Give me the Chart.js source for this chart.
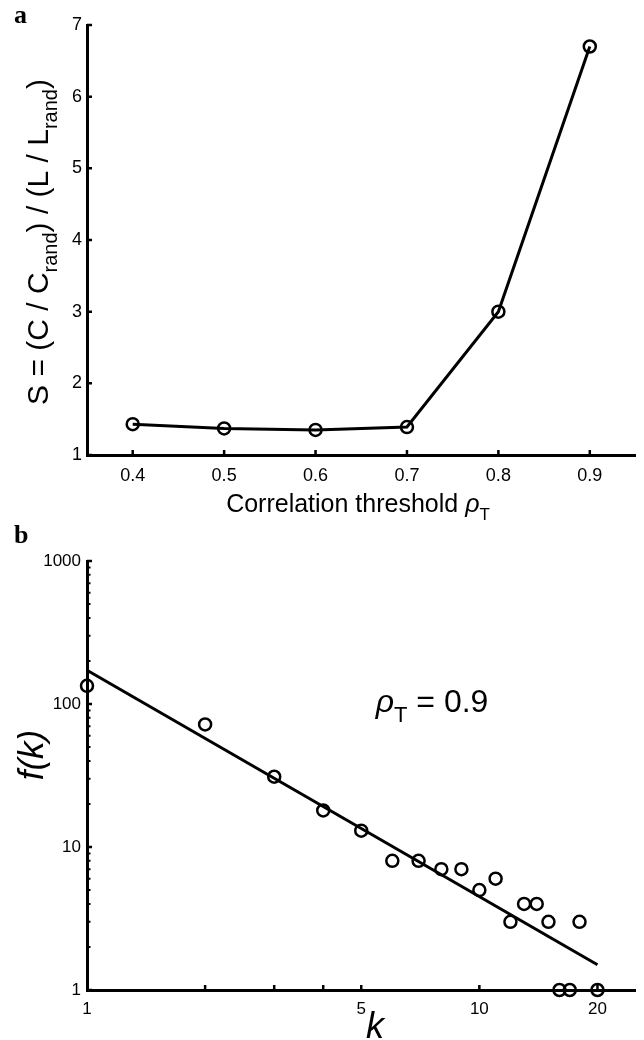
<!DOCTYPE html>
<html>
<head>
<meta charset="utf-8">
<script src="https://cdn.jsdelivr.net/npm/chart.js@4.4.0/dist/chart.umd.min.js"></script>
<style>
  html, body { margin: 0; padding: 0; background: #fff; }
  canvas { display: block; }
</style>
</head>
<body>
<canvas id="chartA" width="644" height="520"></canvas>
<canvas id="chartB" width="644" height="520"></canvas>
<script>
// panel a: small-world index vs correlation threshold
const thresholds = [0.4, 0.5, 0.6, 0.7, 0.8, 0.9];
const sValues = [1.43, 1.37, 1.35, 1.39, 3.0, 6.7];
const thresholdTicks = [0.4, 0.5, 0.6, 0.7, 0.8, 0.9];
const sTicks = [1, 2, 3, 4, 5, 6, 7];

// panel b: degree distribution at rho_T = 0.9
const degrees = [1, 2, 3, 4, 5, 6, 7, 8, 9, 10, 11, 12, 13, 14, 15, 16, 17, 18, 20];
const degreeFreq = [134, 72, 31, 18, 13, 8, 8, 7, 7, 5, 6, 3, 4, 4, 3, 1, 1, 3, 1];
const fitK = [1, 20];
const fitF = [172, 1.5];
const kLabels = [1, 5, 10, 20];
const kTickMarks = [2, 3, 4, 5, 10, 20];
const fTicks = [1, 10, 100, 1000];

const SANS = '"Liberation Sans", Arial, Helvetica, sans-serif';
const SERIF = '"Liberation Serif", "Times New Roman", serif';

// draws text pieces with optional subscripts / italics, centred on x
function drawRich(ctx, parts, x, y, size) {
  const font = p => (p.italic ? 'italic ' : '') + Math.round(p.sub ? size * 0.68 : size) + 'px ' + SANS;
  let w = 0;
  parts.forEach(p => { ctx.font = font(p); w += ctx.measureText(p.t).width; });
  let cx = x - w / 2;
  ctx.textAlign = 'left';
  ctx.textBaseline = 'alphabetic';
  parts.forEach(p => {
    ctx.font = font(p);
    ctx.fillText(p.t, cx, p.sub ? y + size * 0.3 : y);
    cx += ctx.measureText(p.t).width;
  });
}

function drawTickMarks(ctx, chart, xs, ys, len, yMinor) {
  const { chartArea: a, scales } = chart;
  ctx.save();
  ctx.strokeStyle = '#000';
  ctx.lineWidth = 2.5;
  ctx.beginPath();
  xs.forEach(v => {
    const px = scales.x.getPixelForValue(v);
    ctx.moveTo(px, a.bottom); ctx.lineTo(px, a.bottom - len);
  });
  ys.forEach(v => {
    const py = scales.y.getPixelForValue(v);
    ctx.moveTo(a.left, py); ctx.lineTo(a.left + len, py);
  });
  ctx.stroke();
  if (yMinor) {
    ctx.lineWidth = 2;
    ctx.beginPath();
    yMinor.forEach(v => {
      const py = scales.y.getPixelForValue(v);
      ctx.moveTo(a.left, py); ctx.lineTo(a.left + 3.5, py);
    });
    ctx.stroke();
  }
  ctx.restore();
}

const panelA = {
  id: 'panelA',
  afterDraw(chart) {
    const ctx = chart.ctx;
    drawTickMarks(ctx, chart, thresholdTicks, sTicks, 5);
    ctx.save();
    ctx.fillStyle = '#000';
    ctx.font = 'bold 26px ' + SERIF;
    ctx.textAlign = 'left';
    ctx.fillText('a', 14, 23);
    drawRich(ctx, [
      { t: 'Correlation threshold ' },
      { t: 'ρ', italic: true },
      { t: 'T', sub: true }
    ], 358, 512, 25);
    ctx.translate(48, 242);
    ctx.rotate(-Math.PI / 2);
    drawRich(ctx, [
      { t: 'S = (C / C' }, { t: 'rand', sub: true },
      { t: ') / (L / L' }, { t: 'rand', sub: true }, { t: ')' }
    ], 0, 0, 30);
    ctx.restore();
  }
};

const panelB = {
  id: 'panelB',
  afterDraw(chart) {
    const ctx = chart.ctx;
    const minor = [];
    [1, 10, 100].forEach(d => { for (let m = 2; m <= 9; m++) minor.push(d * m); });
    drawTickMarks(ctx, chart, kTickMarks, fTicks, 5, minor);
    ctx.save();
    ctx.fillStyle = '#000';
    ctx.font = 'bold 26px ' + SERIF;
    ctx.textAlign = 'left';
    ctx.fillText('b', 14, 23);
    drawRich(ctx, [
      { t: 'ρ', italic: true }, { t: 'T', sub: true }, { t: ' = 0.9' }
    ], 432, 192, 32);
    drawRich(ctx, [{ t: 'k', italic: true }], 375, 518, 36);
    ctx.translate(43, 235);
    ctx.rotate(-Math.PI / 2);
    drawRich(ctx, [{ t: 'f(k)', italic: true }], 0, 0, 35);
    ctx.restore();
  }
};

const axisBorder = { display: true, color: '#000', width: 3 };
const noGrid = { display: false, drawTicks: false };

new Chart(document.getElementById('chartA'), {
  type: 'line',
  data: {
    datasets: [{
      data: thresholds.map((t, i) => ({ x: t, y: sValues[i] })),
      borderColor: '#000',
      borderWidth: 3,
      pointStyle: 'circle',
      pointRadius: 6,
      pointBorderWidth: 2.5,
      pointBackgroundColor: 'rgba(0,0,0,0)',
      pointBorderColor: '#000',
      tension: 0,
      clip: false
    }]
  },
  options: {
    responsive: false,
    animation: false,
    events: [],
    layout: { padding: { top: 25, right: 4, left: 0, bottom: 0 } },
    plugins: { legend: { display: false }, tooltip: { enabled: false } },
    scales: {
      x: {
        type: 'linear', min: 0.35, max: 0.95,
        grid: noGrid, border: axisBorder,
        afterBuildTicks: s => { s.ticks = thresholdTicks.map(v => ({ value: v })); },
        afterFit: s => { s.height = 65; },
        ticks: {
          color: '#000', padding: 10, maxRotation: 0, autoSkip: false,
          font: { family: SANS, size: 18 },
          callback: v => v.toFixed(1)
        }
      },
      y: {
        type: 'linear', min: 1, max: 7,
        grid: noGrid, border: axisBorder,
        afterBuildTicks: s => { s.ticks = sTicks.map(v => ({ value: v })); },
        afterFit: s => { s.width = 87; },
        ticks: {
          color: '#000', padding: 5,
          font: { family: SANS, size: 18 },
          callback: v => String(v)
        }
      }
    }
  },
  plugins: [panelA]
});

new Chart(document.getElementById('chartB'), {
  type: 'scatter',
  data: {
    datasets: [{
      type: 'line',
      data: fitK.map((k, i) => ({ x: k, y: fitF[i] })),
      borderColor: '#000',
      borderWidth: 3,
      pointRadius: 0,
      clip: false
    }, {
      data: degrees.map((k, i) => ({ x: k, y: degreeFreq[i] })),
      pointStyle: 'circle',
      pointRadius: 6,
      pointBorderWidth: 2.5,
      pointBackgroundColor: 'rgba(0,0,0,0)',
      pointBorderColor: '#000',
      clip: false
    }]
  },
  options: {
    responsive: false,
    animation: false,
    events: [],
    layout: { padding: { top: 41, right: 6, left: 0, bottom: 0 } },
    plugins: { legend: { display: false }, tooltip: { enabled: false } },
    scales: {
      x: {
        type: 'logarithmic', min: 1, max: 25,
        grid: noGrid, border: axisBorder,
        afterBuildTicks: s => { s.ticks = kLabels.map(v => ({ value: v })); },
        afterFit: s => { s.height = 50; },
        ticks: {
          color: '#000', padding: 9, maxRotation: 0, autoSkip: false,
          font: { family: SANS, size: 17 },
          callback: v => String(v)
        }
      },
      y: {
        type: 'logarithmic', min: 1, max: 1000,
        grid: noGrid, border: axisBorder,
        afterBuildTicks: s => { s.ticks = fTicks.map(v => ({ value: v })); },
        afterFit: s => { s.width = 87; },
        ticks: {
          color: '#000', padding: 6,
          font: { family: SANS, size: 17 },
          callback: v => String(v)
        }
      }
    }
  },
  plugins: [panelB]
});
</script>
</body>
</html>
